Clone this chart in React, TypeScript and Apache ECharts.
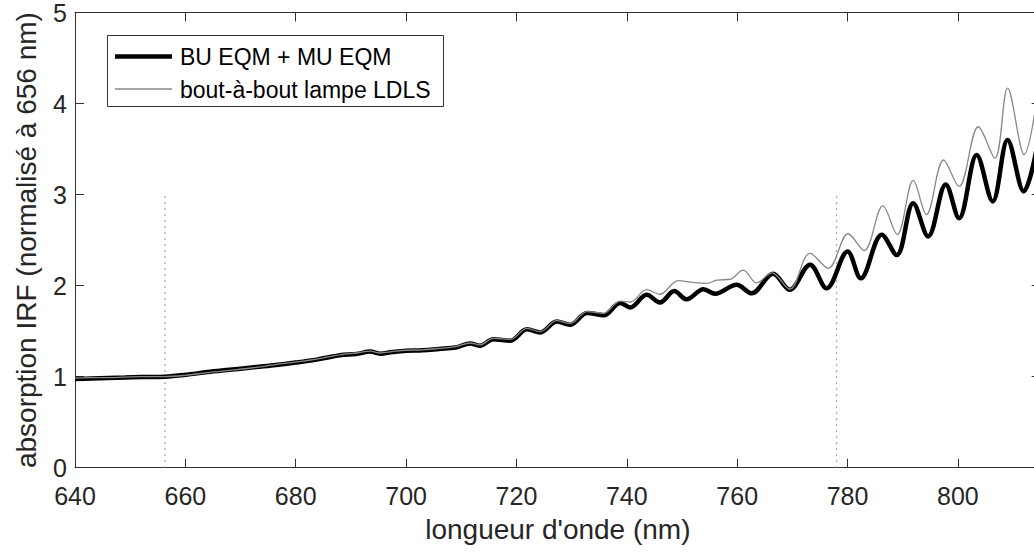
import React, { useEffect, useRef } from "react";
import * as echarts from "echarts";

// ---- data ----
const buWavelengths = [640, 643, 646, 649, 652, 656.3, 660, 664, 668, 672, 676, 680, 684, 688, 691, 693.5, 695.3, 697.5, 700, 703, 706, 709, 711.6, 713.4, 715.8, 718.9, 721.9, 724.3, 727.3, 729.7, 732.8, 735.8, 738.8, 740.6, 743.6, 746.0, 748.6, 750.8, 753.9, 756.0, 759.9, 762.6, 766.5, 769.5, 773.2, 776.2, 780.0, 782.4, 786.2, 788.9, 791.9, 794.6, 797.8, 800.2, 803.4, 806.3, 809.0, 811.9, 815];
const buValues = [0.975, 0.98, 0.985, 0.99, 0.995, 1.0, 1.02, 1.05, 1.075, 1.1, 1.125, 1.155, 1.19, 1.235, 1.25, 1.275, 1.252, 1.27, 1.285, 1.29, 1.305, 1.32, 1.365, 1.34, 1.41, 1.395, 1.52, 1.485, 1.605, 1.57, 1.7, 1.675, 1.81, 1.76, 1.9, 1.815, 1.94, 1.85, 1.96, 1.91, 2.01, 1.915, 2.13, 1.955, 2.23, 1.97, 2.375, 2.08, 2.56, 2.335, 2.905, 2.54, 3.11, 2.74, 3.435, 2.925, 3.6, 3.035, 3.75];

const ldlsWavelengths = [640, 643, 646, 649, 652, 656.3, 660, 664, 668, 672, 676, 680, 684, 688, 691, 693.5, 695.3, 697.5, 700, 703, 706, 709, 711.6, 713.4, 715.8, 718.9, 721.9, 724.3, 727.3, 729.7, 732.8, 735.8, 738.8, 740.6, 743.6, 746.0, 749.3, 752.0, 754.5, 756.3, 758.7, 761.1, 763.5, 766.3, 769.5, 773.2, 776.5, 780.1, 783.0, 786.4, 789.0, 791.9, 794.3, 797.4, 800.2, 803.7, 806.7, 809.0, 812.0, 815];
const ldlsValues = [0.985, 0.99, 0.99, 0.995, 1.0, 1.0, 1.015, 1.045, 1.07, 1.095, 1.13, 1.16, 1.195, 1.24, 1.26, 1.28, 1.26, 1.275, 1.29, 1.295, 1.31, 1.33, 1.37, 1.35, 1.42, 1.41, 1.53, 1.495, 1.615, 1.585, 1.715, 1.695, 1.83, 1.82, 1.955, 1.905, 2.055, 2.035, 2.025, 2.06, 2.07, 2.17, 2.03, 2.14, 1.96, 2.355, 2.19, 2.57, 2.385, 2.875, 2.56, 3.155, 2.78, 3.38, 3.09, 3.745, 3.4, 4.17, 3.44, 4.37];

const markerWavelengths = [656.3, 778];
const markerTop = 3;

const seriesNames = ["BU EQM + MU EQM", "bout-à-bout lampe LDLS"];
const xAxisTitle = "longueur d'onde (nm)";
const yAxisTitle = "absorption IRF (normalisé à 656 nm)";
const xMin = 640;
const xMax = 815;
const xStep = 20;
const yMin = 0;
const yMax = 5;
const yStep = 1;

const FONT = "'Liberation Sans', Arial, Helvetica, sans-serif";
const AXIS_COLOR = "#333333";
const TEXT_COLOR = "#262626";

export default function App() {
  const ref = useRef<HTMLDivElement>(null);

  useEffect(() => {
    if (!ref.current) return;
    const chart = echarts.init(ref.current, null, { renderer: "svg" });

    const buData = buWavelengths.map((x, i) => [x, buValues[i]]);
    const ldlsData = ldlsWavelengths.map((x, i) => [x, ldlsValues[i]]);

    const axisCommon = {
      type: "value" as const,
      splitLine: { show: false },
      axisLine: { show: true, onZero: false, lineStyle: { color: AXIS_COLOR, width: 1 } },
      axisTick: { show: true, inside: true, length: 9, lineStyle: { color: AXIS_COLOR, width: 1 } },
    };

    const markerSeries = markerWavelengths.map((x) => ({
      type: "line" as const,
      data: [
        [x, yMin],
        [x, markerTop],
      ],
      symbol: "none",
      silent: true,
      lineStyle: { color: "#7a7a7a", width: 1.3, type: [1.3, 4.7] as any },
      z: 1,
    }));

    chart.setOption({
      animation: false,
      backgroundColor: "#ffffff",
      grid: {
        left: 75,
        top: 12.5,
        right: 9.3,
        bottom: 86.3,
        containLabel: false,
        outerBoundsMode: "none",
      },
      xAxis: [
        {
          ...axisCommon,
          position: "bottom",
          min: xMin,
          max: xMax,
          interval: xStep,
          name: xAxisTitle,
          nameLocation: "middle",
          nameGap: 48,
          nameTextStyle: { fontFamily: FONT, fontSize: 28, color: TEXT_COLOR },
          axisLabel: {
            show: true,
            margin: 16,
            fontFamily: FONT,
            fontSize: 25,
            color: TEXT_COLOR,
            showMaxLabel: false,
          },
        },
        {
          ...axisCommon,
          position: "top",
          min: xMin,
          max: xMax,
          interval: xStep,
          axisLabel: { show: false },
        },
      ],
      yAxis: [
        {
          ...axisCommon,
          position: "left",
          min: yMin,
          max: yMax,
          interval: yStep,
          name: yAxisTitle,
          nameLocation: "middle",
          nameGap: 35,
          nameTextStyle: { fontFamily: FONT, fontSize: 28, color: TEXT_COLOR },
          axisLabel: {
            show: true,
            margin: 8,
            fontFamily: FONT,
            fontSize: 25,
            color: TEXT_COLOR,
          },
        },
        {
          ...axisCommon,
          position: "right",
          min: yMin,
          max: yMax,
          interval: yStep,
          axisLabel: { show: false },
        },
      ],
      graphic: [
        {
          type: "rect",
          shape: { x: 107.5, y: 35.5, width: 336, height: 71 },
          style: { fill: "#ffffff", stroke: AXIS_COLOR, lineWidth: 1 },
          z: 100,
        },
        {
          type: "line",
          shape: { x1: 115, y1: 56.5, x2: 172, y2: 56.5 },
          style: { stroke: "#000000", lineWidth: 4.5 },
          z: 101,
        },
        {
          type: "line",
          shape: { x1: 115, y1: 89, x2: 172, y2: 89 },
          style: { stroke: "#888888", lineWidth: 1.3 },
          z: 101,
        },
        {
          type: "text",
          x: 180,
          y: 57,
          style: {
            text: seriesNames[0],
            fontFamily: FONT,
            fontSize: 23,
            fill: "#000000",
            verticalAlign: "middle",
            align: "left",
          },
          z: 101,
        },
        {
          type: "text",
          x: 180,
          y: 89.5,
          style: {
            text: seriesNames[1],
            fontFamily: FONT,
            fontSize: 23,
            fill: "#000000",
            verticalAlign: "middle",
            align: "left",
          },
          z: 101,
        },
      ],
      series: [
        ...markerSeries,
        {
          name: seriesNames[0],
          type: "line",
          data: buData,
          symbol: "none",
          smooth: 0.35,
          lineStyle: { color: "#000000", width: 4.5 },
          z: 3,
        },
        {
          name: seriesNames[1],
          type: "line",
          data: ldlsData,
          symbol: "none",
          smooth: 0.35,
          lineStyle: { color: "#888888", width: 1.3 },
          z: 4,
        },
      ],
    });

    return () => chart.dispose();
  }, []);

  return (
    <div
      style={{
        position: "fixed",
        left: 0,
        top: 0,
        width: 1034,
        height: 554,
        overflow: "hidden",
        background: "#ffffff",
      }}
    >
      <div ref={ref} style={{ width: 1050, height: 554 }} />
    </div>
  );
}
